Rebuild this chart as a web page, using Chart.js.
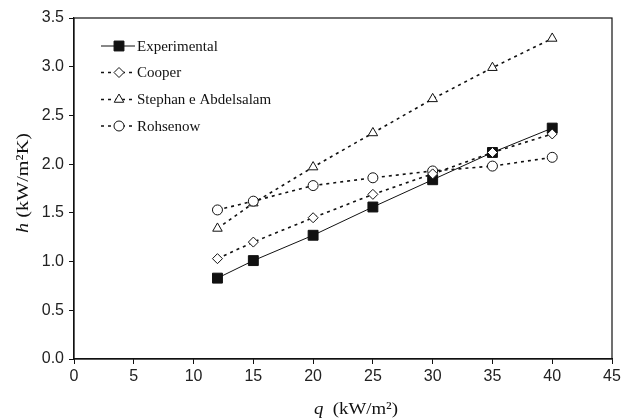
<!DOCTYPE html>
<html>
<head>
<meta charset="utf-8">
<script src="https://cdn.jsdelivr.net/npm/chart.js@4/dist/chart.umd.min.js"></script>
<style>
html,body{margin:0;padding:0;background:#fff;}
#wrap{width:624px;height:419px;}
</style>
</head>
<body>
<div id="wrap"><canvas id="c" width="624" height="419"></canvas></div>
<script>
const qValues = [12, 15, 20, 25, 30, 35, 40];
const experimental = [0.83, 1.01, 1.27, 1.56, 1.84, 2.12, 2.37];
const cooper = [1.03, 1.20, 1.45, 1.69, 1.90, 2.12, 2.31];
const stephan = [1.34, 1.60, 1.97, 2.32, 2.67, 2.99, 3.29];
const rohsenow = [1.53, 1.62, 1.78, 1.86, 1.93, 1.98, 2.07];
const seriesNames = ['Experimental', 'Cooper', 'Stephan e Abdelsalam', 'Rohsenow'];
const xTitleParts = ['q', '  (kW/m\u00B2)'];
const yTitleParts = ['h', ' (kW/m\u00B2K)'];

function pts(arr){ return qValues.map((q,i)=>({x:q, y:arr[i]})); }

const DASH = [3, 4];
const datasets = [
  {label: seriesNames[0], data: pts(experimental), borderColor:'#111', borderWidth:1, borderDash:[],
   pointStyle:'rect', pointRadius:7, pointBackgroundColor:'#111', pointBorderColor:'#111', pointBorderWidth:1, order:4},
  {label: seriesNames[1], data: pts(cooper), borderColor:'#111', borderWidth:1.6, borderDash:DASH,
   pointStyle:'rectRot', pointRadius:5, pointBackgroundColor:'#fff', pointBorderColor:'#111', pointBorderWidth:1, order:1},
  {label: seriesNames[2], data: pts(stephan), borderColor:'#111', borderWidth:1.6, borderDash:DASH,
   pointStyle:'triangle', pointRadius:5.5, pointBackgroundColor:'#fff', pointBorderColor:'#111', pointBorderWidth:1, order:3},
  {label: seriesNames[3], data: pts(rohsenow), borderColor:'#111', borderWidth:1.6, borderDash:DASH,
   pointStyle:'circle', pointRadius:5, pointBackgroundColor:'#fff', pointBorderColor:'#111', pointBorderWidth:1, order:2}
];

const SERIF = '"Liberation Serif", "Times New Roman", serif';

function drawTitle(ctx, parts, size, targetWidth){
  ctx.font = 'italic ' + size + 'px ' + SERIF;
  const w1 = ctx.measureText(parts[0]).width;
  ctx.font = size + 'px ' + SERIF;
  const w2 = ctx.measureText(parts[1]).width;
  const k = targetWidth ? targetWidth / (w1 + w2) : 1;
  ctx.scale(k, 1);
  const s = -(w1 + w2) / 2;
  ctx.textAlign = 'left'; ctx.textBaseline = 'middle';
  ctx.font = 'italic ' + size + 'px ' + SERIF;
  ctx.fillText(parts[0], s, 0);
  ctx.font = size + 'px ' + SERIF;
  ctx.fillText(parts[1], s + w1, 0);
}

const decor = {
  id:'decor',
  afterDraw(chart){
    const ctx = chart.ctx, a = chart.chartArea;
    ctx.save();
    ctx.strokeStyle = '#111'; ctx.lineWidth = 1.2; ctx.setLineDash([]);
    ctx.strokeRect(a.left, a.top, a.right - a.left, a.bottom - a.top);
    const lx0 = 101, lx1 = 135, mx = 119, tx = 137;
    const rows = [46, 72.5, 99.5, 126];
    chart.data.datasets.forEach((ds, i) => {
      const y = rows[i];
      ctx.strokeStyle = ds.borderColor; ctx.lineWidth = ds.borderWidth;
      ctx.setLineDash(ds.borderDash || []);
      ctx.beginPath(); ctx.moveTo(lx0, y); ctx.lineTo(lx1, y); ctx.stroke();
      ctx.setLineDash([]);
      ctx.fillStyle = ds.pointBackgroundColor; ctx.strokeStyle = ds.pointBorderColor; ctx.lineWidth = ds.pointBorderWidth;
      Chart.helpers.drawPoint(ctx, {pointStyle: ds.pointStyle, radius: ds.pointRadius, borderWidth: ds.pointBorderWidth, rotation: 0}, mx, y);
      ctx.fillStyle = '#111'; ctx.font = '15px ' + SERIF;
      ctx.textAlign = 'left'; ctx.textBaseline = 'middle';
      ctx.fillText(ds.label, tx, y + 1);
    });
    ctx.fillStyle = '#111';
    ctx.save();
    ctx.translate(356, 410);
    drawTitle(ctx, xTitleParts, 17, 84);
    ctx.restore();
    ctx.save();
    ctx.translate(24, 183);
    ctx.rotate(-Math.PI / 2);
    drawTitle(ctx, yTitleParts, 17, 100);
    ctx.restore();
    ctx.restore();
  }
};

new Chart(document.getElementById('c'), {
  type: 'line',
  data: { datasets },
  options: {
    responsive: false,
    animation: false,
    layout: { padding: { left: 0, right: 12, top: 18, bottom: 0 } },
    plugins: { legend: { display: false }, tooltip: { enabled: false } },
    scales: {
      x: {
        type: 'linear', min: 0, max: 45,
        ticks: { stepSize: 5, color: '#222', font: { family: '"Liberation Sans", Arial, sans-serif', size: 16 }, padding: 3, maxRotation: 0 },
        grid: { display: true, drawOnChartArea: false, drawTicks: true, tickLength: 5, color: '#111' },
        border: { display: true, color: '#111', width: 1.2 },
        afterFit(s){ s.height = 60; }
      },
      y: {
        type: 'linear', min: 0, max: 3.5,
        ticks: { stepSize: 0.5, color: '#222', font: { family: '"Liberation Sans", Arial, sans-serif', size: 16 }, padding: 5,
                 callback: v => Number(v).toFixed(1) },
        grid: { display: true, drawOnChartArea: false, drawTicks: true, tickLength: 5, color: '#111' },
        border: { display: true, color: '#111', width: 1.2 },
        afterFit(s){ s.width = 74; }
      }
    }
  },
  plugins: [decor]
});
</script>
</body>
</html>
